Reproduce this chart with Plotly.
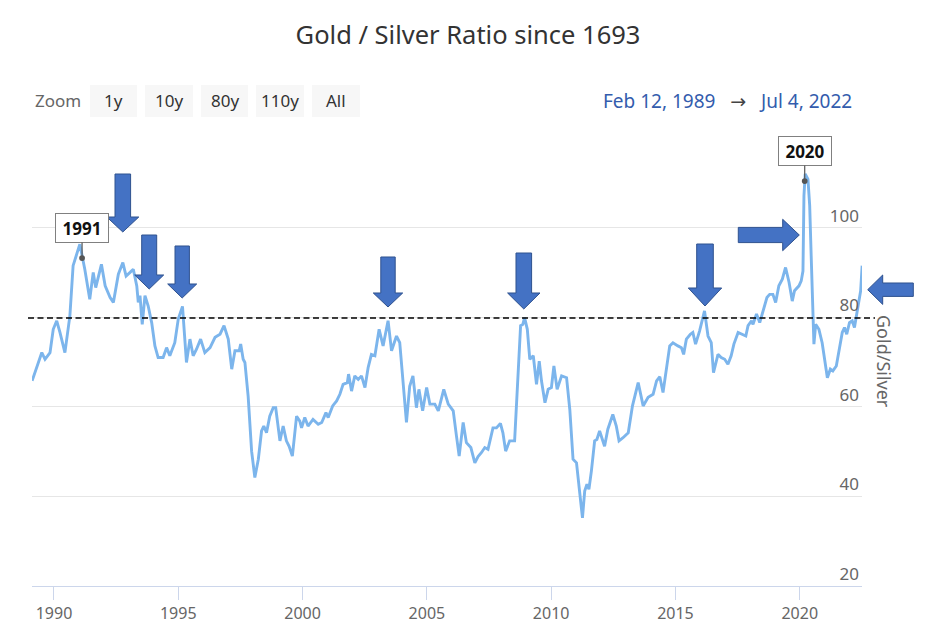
import plotly.graph_objects as go
import pandas as pd

# ---------------- data ----------------
years = [
    1989.12, 1989.51, 1989.64, 1989.84, 1989.97, 1990.11, 1990.24, 1990.44, 1990.64, 1990.77,
    1991.04, 1991.24, 1991.44, 1991.58, 1991.68, 1991.78, 1991.91, 1992.06, 1992.26, 1992.39,
    1992.59, 1992.77, 1992.90, 1993.06, 1993.19, 1993.33, 1993.39, 1993.46, 1993.55, 1993.66,
    1993.79, 1993.93, 1994.06, 1994.19, 1994.39, 1994.53, 1994.66, 1994.86, 1995.00, 1995.17,
    1995.33, 1995.47, 1995.60, 1995.73, 1995.90, 1996.07, 1996.28, 1996.48, 1996.68, 1996.84,
    1997.01, 1997.15, 1997.28, 1997.45, 1997.51, 1997.61, 1997.68, 1997.81, 1997.95, 1998.08,
    1998.22, 1998.35, 1998.44, 1998.55, 1998.68, 1998.82, 1998.92, 1999.09, 1999.22, 1999.35,
    1999.46, 1999.59, 1999.76, 1999.89, 1999.96, 2000.09, 2000.22, 2000.42, 2000.63, 2000.77,
    2000.94, 2001.03, 2001.21, 2001.37, 2001.50, 2001.63, 2001.80, 2001.85, 2001.97, 2002.10,
    2002.24, 2002.37, 2002.51, 2002.64, 2002.77, 2002.91, 2003.08, 2003.24, 2003.44, 2003.58,
    2003.78, 2003.91, 2004.04, 2004.18, 2004.31, 2004.44, 2004.58, 2004.68, 2004.83, 2004.99,
    2005.12, 2005.32, 2005.46, 2005.68, 2005.86, 2006.06, 2006.19, 2006.30, 2006.46, 2006.59,
    2006.77, 2006.93, 2007.06, 2007.20, 2007.33, 2007.46, 2007.66, 2007.80, 2007.96, 2008.06,
    2008.17, 2008.33, 2008.53, 2008.66, 2008.77, 2008.86, 2008.93, 2009.04, 2009.14, 2009.28,
    2009.41, 2009.52, 2009.61, 2009.75, 2009.88, 2010.01, 2010.11, 2010.24, 2010.42, 2010.62,
    2010.75, 2010.88, 2011.02, 2011.15, 2011.26, 2011.35, 2011.44, 2011.52, 2011.62, 2011.75,
    2011.84, 2011.95, 2012.06, 2012.15, 2012.28, 2012.48, 2012.62, 2012.73, 2012.89, 2013.10,
    2013.27, 2013.50, 2013.70, 2013.90, 2014.10, 2014.24, 2014.37, 2014.50, 2014.77, 2014.90,
    2015.10, 2015.24, 2015.33, 2015.44, 2015.60, 2015.70, 2015.81, 2015.97, 2016.17, 2016.31,
    2016.44, 2016.53, 2016.71, 2016.84, 2016.98, 2017.11, 2017.24, 2017.35, 2017.52, 2017.70,
    2017.83, 2017.92, 2018.06, 2018.12, 2018.26, 2018.39, 2018.52, 2018.68, 2018.79, 2018.92,
    2019.03, 2019.16, 2019.30, 2019.43, 2019.57, 2019.70, 2019.79, 2019.97, 2020.06, 2020.13,
    2020.17, 2020.22, 2020.33, 2020.40, 2020.46, 2020.57, 2020.64, 2020.77, 2020.90, 2021.00,
    2021.11, 2021.23, 2021.33, 2021.47, 2021.60, 2021.71, 2021.80, 2021.89, 2022.00, 2022.11,
    2022.20, 2022.30, 2022.38, 2022.45, 2022.51,
]
ratio = [
    65.8, 72.1, 70.6, 72.1, 77.3, 79.2, 76.6, 72.1, 80.3, 91.5,
    96.3, 90.7, 84.0, 90.0, 86.6, 89.2, 91.8, 87.0, 84.4, 83.3,
    89.6, 92.2, 89.2, 90.0, 90.7, 87.0, 83.3, 84.8, 78.4, 84.8,
    82.5, 78.8, 73.6, 71.0, 71.0, 73.2, 71.4, 74.3, 79.6, 82.4,
    69.9, 75.1, 71.4, 72.8, 75.1, 72.1, 73.2, 75.5, 76.2, 78.1,
    75.1, 68.4, 72.5, 72.5, 74.0, 70.6, 69.9, 62.4, 50.1, 44.2,
    48.3, 54.6, 55.7, 54.2, 57.9, 59.8, 59.8, 52.4, 55.7, 52.4,
    51.2, 49.0, 57.9, 56.8, 55.3, 57.6, 55.7, 57.2, 56.1, 56.5,
    58.7, 57.6, 60.2, 61.3, 62.8, 65.0, 65.4, 67.3, 63.5, 66.9,
    66.1, 66.9, 64.3, 68.8, 71.7, 71.4, 77.3, 73.6, 79.2, 72.5,
    75.8, 74.3, 66.1, 56.5, 64.6, 66.9, 59.8, 63.9, 59.1, 64.3,
    60.6, 60.6, 59.1, 63.9, 60.6, 59.1, 53.5, 49.0, 56.5, 52.0,
    50.9, 47.5, 48.9, 49.8, 50.9, 50.5, 55.3, 55.3, 56.3, 54.2,
    50.1, 52.4, 52.4, 65.4, 78.1, 78.4, 79.9, 77.3, 70.6, 71.4,
    65.0, 70.2, 65.8, 60.9, 63.9, 64.3, 69.1, 63.9, 66.9, 66.5,
    59.4, 48.3, 47.5, 40.8, 35.2, 41.2, 42.7, 41.6, 45.7, 52.4,
    52.7, 54.6, 52.7, 51.2, 55.0, 58.3, 55.7, 52.4, 53.1, 54.2,
    60.2, 65.4, 60.2, 62.1, 62.8, 65.8, 66.7, 63.2, 73.6, 74.3,
    73.6, 73.2, 71.7, 75.1, 76.2, 76.6, 74.0, 76.9, 81.4, 75.8,
    74.3, 67.6, 71.7, 71.0, 70.6, 69.5, 71.4, 74.0, 76.6, 76.2,
    75.8, 78.1, 79.2, 78.4, 80.7, 78.8, 81.4, 84.4, 85.1, 85.1,
    83.3, 87.0, 88.5, 91.1, 87.8, 83.6, 85.9, 87.0, 88.1, 90.3,
    107.1, 112.0, 110.8, 104.9, 93.7, 74.0, 78.4, 77.3, 74.3, 70.6,
    66.5, 68.4, 68.0, 69.1, 73.6, 76.6, 77.7, 76.2, 78.8, 79.2,
    77.7, 81.1, 83.3, 85.9, 91.5,
]
flag_years = [1991.13, 2020.20]
flag_values = [93.2, 110.4]
flag_labels = ["1991", "2020"]
ref_level = 79.8
y_tick_values = [20, 40, 60, 80, 100, 120]
y_tick_labels = ["20", "40", "60", "80", "100", ""]
zoom_buttons = ["1y", "10y", "80y", "110y", "All"]
range_start_text = "Feb 12, 1989"
range_end_text = "Jul 4, 2022"
title_text = "Gold / Silver Ratio since 1693"
axis_title = "Gold/Silver"


def dec_to_ts(y):
    yr = int(y)
    start = pd.Timestamp(yr, 1, 1)
    end = pd.Timestamp(yr + 1, 1, 1)
    return start + (end - start) * (y - yr)


dates = [dec_to_ts(y) for y in years]
flag_dates = [dec_to_ts(y) for y in flag_years]

# ---------------- layout geometry ----------------
# The page body keeps its default 8px margin, so the figure is drawn 8px in
# from the window's top-left corner; positions below are window pixels.
OFF = 8
WIN_W, WIN_H = 928, 642
W, H = WIN_W - OFF, WIN_H - OFF
PLOT_L, PLOT_R, PLOT_T, PLOT_B = 32, 862, 138, 586   # window pixels
PW, PH = PLOT_R - PLOT_L, PLOT_B - PLOT_T
M_L, M_T = PLOT_L - OFF, PLOT_T - OFF
M_R, M_B = W - M_L - PW, H - M_T - PH
FONT = "Noto Sans, DejaVu Sans, sans-serif"


def px(x):
    return (x - PLOT_L) / PW


def py(y):
    return (PLOT_B - y) / PH


def poly(pts):
    return "M " + " L ".join(f"{px(a):.5f},{py(b):.5f}" for a, b in pts) + " Z"


def down_arrow(cx, top, hb, tip, sw, hw):
    return poly([(cx - sw, top), (cx + sw, top), (cx + sw, hb), (cx + hw, hb),
                 (cx, tip), (cx - hw, hb), (cx - sw, hb)])


def horiz_arrow(tail, hb, tip, cy, sw, hw):
    return poly([(tail, cy - sw), (hb, cy - sw), (hb, cy - hw), (tip, cy),
                 (hb, cy + hw), (hb, cy + sw), (tail, cy + sw)])


fig = go.Figure()
fig.add_trace(go.Scatter(
    x=dates, y=ratio, mode="lines",
    line=dict(color="#7cb5ec", width=2.9),
    hoverinfo="skip", showlegend=False,
))

shapes = []
shapes.append(dict(type="line", xref="paper", yref="y",
                   x0=px(28), x1=px(875), y0=ref_level, y1=ref_level,
                   line=dict(color="black", width=1.5, dash="6px,3.5px"), layer="above"))

arrow_style = dict(type="path", xref="paper", yref="paper",
                   fillcolor="#4472c4", line=dict(color="#2f528f", width=1), layer="above")
for spec in [
    (122.8, 174, 217, 232, 7.8, 16),
    (149.2, 235, 275, 289, 7.5, 14.5),
    (182.2, 246, 284, 298, 7.2, 14.5),
    (388.0, 257, 293, 307, 7.2, 14.7),
    (523.8, 253, 293, 309, 7.8, 16.2),
    (705.0, 244, 288, 306, 8.3, 16.7),
]:
    shapes.append(dict(path=down_arrow(*spec), **arrow_style))
shapes.append(dict(path=horiz_arrow(738.3, 782.7, 799.3, 235, 7.6, 15.7), **arrow_style))
shapes.append(dict(path=horiz_arrow(913.3, 882.7, 867.7, 289.7, 6.7, 14.7), **arrow_style))

btn_x = [(90, 137), (145, 193), (201, 248), (256, 304), (312, 360)]
for (x0, x1) in btn_x:
    shapes.append(dict(type="rect", xref="paper", yref="paper",
                       x0=px(x0), x1=px(x1), y0=py(117), y1=py(85),
                       fillcolor="#f7f7f7", line=dict(width=0), layer="below"))

annotations = []
for (x0, x1), lab in zip(btn_x, zoom_buttons):
    annotations.append(dict(xref="paper", yref="paper", x=px((x0 + x1) / 2), y=py(101),
                            text=lab, showarrow=False, xanchor="center", yanchor="middle",
                            font=dict(family=FONT, size=17, color="#333333")))
annotations.append(dict(xref="paper", yref="paper", x=px(33), y=py(101), text="Zoom",
                        showarrow=False, xanchor="left", yanchor="middle",
                        font=dict(family=FONT, size=17, color="#666666")))
annotations.append(dict(
    xref="paper", yref="paper", x=px(854), y=py(101),
    text=(f"{range_start_text}\u00a0\u00a0\u00a0<span style='color:#444444'>→</span>"
          f"\u00a0\u00a0\u00a0{range_end_text}"),
    showarrow=False, xanchor="right", yanchor="middle",
    font=dict(family=FONT, size=19, color="#335cad")))

annotations.append(dict(xref="paper", yref="paper", x=px(884), y=0.5, text=axis_title,
                        showarrow=False, textangle=90, xanchor="center", yanchor="middle",
                        font=dict(family=FONT, size=18, color="#666666")))

for d, v, lab in zip(flag_dates, flag_values, flag_labels):
    annotations.append(dict(xref="x", yref="y", x=d, y=v, text=f"<b>{lab}</b>",
                            showarrow=True, ax=0, ay=-30, arrowhead=6, arrowsize=1.2,
                            arrowwidth=1.2, arrowcolor="#555555",
                            bgcolor="white", bordercolor="#808080", borderwidth=1,
                            borderpad=3, width=46, height=22,
                            font=dict(family=FONT, size=17, color="#111111")))

fig.update_layout(
    width=W, height=H,
    margin=dict(l=M_L, r=M_R, t=M_T, b=M_B, pad=0),
    paper_bgcolor="white", plot_bgcolor="white",
    title=dict(text=title_text, x=0.5, xref="container", xanchor="center",
               y=1 - (35 - OFF) / H, yanchor="middle",
               font=dict(family=FONT, size=25.5, color="#333333")),
    xaxis=dict(type="date", range=[pd.Timestamp("1989-02-12"), pd.Timestamp("2022-07-04")],
               tick0="1990-01-01", dtick="M60", tickformat="%Y",
               showgrid=False, showline=True, linecolor="#ccd6eb", linewidth=1,
               ticks="outside", ticklen=13, tickcolor="#ccd6eb", tickwidth=1,
               tickfont=dict(family=FONT, size=16, color="#666666"), zeroline=False),
    yaxis=dict(range=[20, 120], side="right", tickmode="array",
               tickvals=y_tick_values, ticktext=y_tick_labels,
               showticklabels=True, ticklabelposition="inside top",
               tickfont=dict(family=FONT, size=17, color="#666666"),
               showgrid=True, gridcolor="#e6e6e6", gridwidth=1,
               zeroline=False, showline=False, ticks=""),
    shapes=shapes, annotations=annotations, showlegend=False,
)

fig.write_html("out.html", config={"displayModeBar": False})
